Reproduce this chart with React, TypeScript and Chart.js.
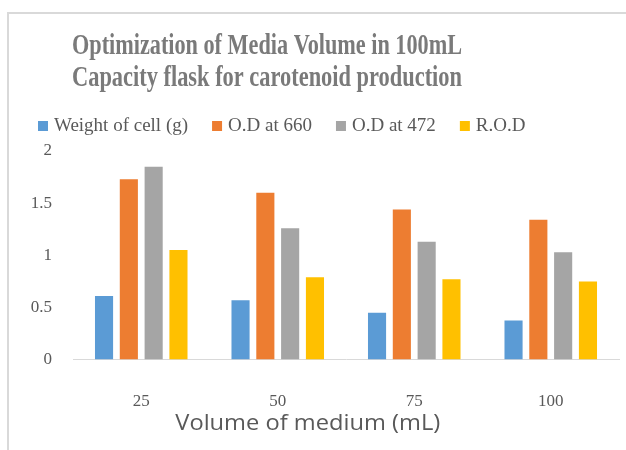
import React, { useEffect, useRef } from "react";
import { Chart, registerables } from "chart.js";
Chart.register(...registerables);

const categories = ["25", "50", "75", "100"];
const seriesNames = ["Weight of cell (g)", "O.D at 660", "O.D at 472", "R.O.D"];
const weightOfCell = [0.61, 0.57, 0.45, 0.375];
const od660 = [1.73, 1.6, 1.44, 1.34];
const od472 = [1.85, 1.26, 1.13, 1.03];
const rod = [1.05, 0.79, 0.77, 0.75];
const colors = ["#5b9bd5", "#ed7d31", "#a5a5a5", "#ffc000"];
const titleLines = ["Optimization of Media Volume in 100mL", "Capacity flask for carotenoid production"];
const xTitle = "Volume of medium (mL)";

const decor = {
  id: "decor",
  beforeDraw(chart: any) {
    const ctx = chart.ctx;
    ctx.save();
    ctx.fillStyle = "#ffffff";
    ctx.fillRect(0, 0, chart.width, chart.height);
    ctx.strokeStyle = "#d9d9d9";
    ctx.lineWidth = 2;
    ctx.beginPath();
    ctx.moveTo(8, chart.height + 5);
    ctx.lineTo(8, 13);
    ctx.lineTo(chart.width + 5, 13);
    ctx.stroke();
    ctx.restore();
  },
  afterDraw(chart: any) {
    const ctx = chart.ctx;
    ctx.save();
    // title
    ctx.fillStyle = "#7a7a7a";
    ctx.font = "bold 30px 'Liberation Serif'";
    ctx.textBaseline = "alphabetic";
    ctx.textAlign = "left";
    const baselines = [54, 86];
    titleLines.forEach((line, i) => {
      const w = ctx.measureText(line).width;
      const sx = 390 / w;
      ctx.save();
      ctx.translate(72, baselines[i]);
      ctx.scale(sx, 1);
      ctx.fillText(line, 0, 0);
      ctx.restore();
    });
    // legend
    ctx.font = "19px 'Liberation Serif'";
    ctx.textBaseline = "middle";
    let x = 38;
    const ly = 126;
    seriesNames.forEach((name, i) => {
      ctx.fillStyle = colors[i];
      ctx.fillRect(x, ly - 5, 10, 10);
      ctx.fillStyle = "#595959";
      ctx.fillText(name, x + 16, ly);
      x += 16 + ctx.measureText(name).width + 24;
    });
    // x axis title
    ctx.textBaseline = "alphabetic";
    ctx.fillStyle = "#595959";
    ctx.font = "22px 'Open Sans'";
    const w2 = ctx.measureText(xTitle).width;
    const a = chart.chartArea;
    const cx = a.left + (a.right - a.left) * 0.43;
    ctx.save();
    ctx.translate(cx - 265 / 2, 430);
    ctx.scale(265 / w2, 1);
    ctx.fillText(xTitle, 0, 0);
    ctx.restore();
    ctx.restore();
  },
};

export default function App() {
  const ref = useRef<HTMLCanvasElement>(null);
  useEffect(() => {
    if (!ref.current) return;
    const data = [weightOfCell, od660, od472, rod];
    const chart = new Chart(ref.current, {
      type: "bar",
      data: {
        labels: categories,
        datasets: seriesNames.map((name, i) => ({
          label: name,
          data: data[i],
          backgroundColor: colors[i],
          categoryPercentage: 0.727,
          barPercentage: 0.73,
        })),
      },
      options: {
        animation: false,
        responsive: false,
        layout: { padding: { top: 151, left: 8, right: 7, bottom: 6 } },
        plugins: {
          title: { display: false },
          tooltip: { enabled: false },
          legend: { display: false },
        },
        scales: {
          x: {
            grid: { display: false, drawTicks: false },
            border: { display: true, color: "#d9d9d9", width: 1 },
            ticks: {
              color: "#595959",
              font: { family: "'Liberation Serif'", size: 17 },
              padding: 32,
            },
          },
          y: {
            min: 0,
            max: 2,
            afterFit: (s: any) => {
              s.width = 65;
            },
            grid: { display: false, drawTicks: false },
            border: { display: false },
            ticks: {
              stepSize: 0.5,
              color: "#595959",
              font: { family: "'Liberation Serif'", size: 17 },
              padding: 21,
              callback: (v: any) => String(Number(v)),
            },
          },
        },
      },
      plugins: [decor],
    });
    return () => chart.destroy();
  }, []);
  return (
    <div style={{ position: "absolute", left: 0, top: 0, width: 626, height: 450 }}>
      <canvas ref={ref} width={626} height={450} style={{ width: 626, height: 450 }} />
    </div>
  );
}
